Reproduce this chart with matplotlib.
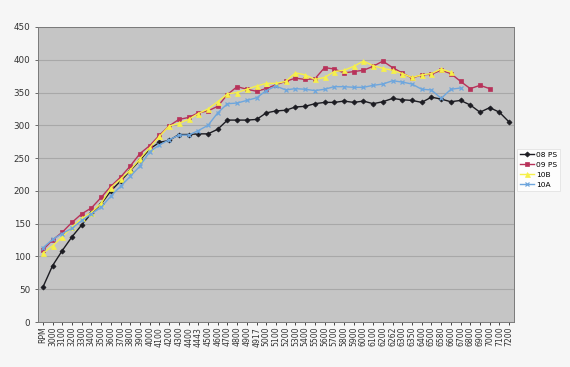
import numpy as np
import matplotlib
matplotlib.use("Agg")
import matplotlib.pyplot as plt

nan = np.nan
categories = ["RPM", "3000", "3100", "3200", "3300", "3400", "3500", "3600", "3700", "3800",
              "3900", "4000", "4100", "4200", "4300", "4400", "4443", "4500", "4600", "4700",
              "4800", "4900", "4917", "5000", "5100", "5200", "5300", "5400", "5500", "5600",
              "5700", "5800", "5900", "6000", "6100", "6200", "6262", "6300", "6350", "6400",
              "6500", "6580", "6600", "6700", "6800", "6900", "7000", "7100", "7200"]

ps08 = [53, 86, 109, 130, 148, 166, 180, 200, 215, 231, 247, 264, 274, 277, 286, 286, 287, 287,
        294, 308, 308, 308, 309, 319, 322, 323, 328, 329, 333, 335, 335, 337, 335, 337, 333, 336,
        341, 339, 338, 335, 343, 340, 336, 338, 331, 320, 327, 320, 305]
ps09 = [110, 125, 137, 152, 165, 174, 190, 207, 221, 238, 257, 269, 285, 299, 309, 312, 319, 322,
        329, 347, 359, 355, 352, 356, 362, 367, 372, 370, 371, 388, 386, 380, 382, 384, 390, 398,
        388, 380, 372, 377, 378, 384, 379, 367, 356, 361, 356, nan, nan]
s10b = [105, 116, 130, 145, 158, 167, 181, 205, 218, 232, 249, 266, 283, 299, 303, 309, 318, 325,
        336, 348, 350, 355, 360, 364, 364, 367, 380, 377, 370, 373, 382, 384, 390, 398, 391, 387,
        384, 379, 373, 377, 379, 386, 381, nan, nan, nan, nan, nan, nan]
s10a = [113, 126, 135, 143, 155, 165, 175, 192, 207, 222, 238, 260, 270, 278, 285, 285, 292, 300,
        319, 333, 334, 338, 342, 353, 360, 354, 356, 355, 353, 355, 359, 359, 358, 358, 361, 363,
        368, 366, 363, 355, 354, 341, 355, 357, nan, nan, nan, nan, nan]

series = [
    ("08 PS", ps08, "#1c1c22", "D", 2.6),
    ("09 PS", ps09, "#b8325a", "s", 3.4),
    ("10B", s10b, "#f6f04a", "^", 3.6),
    ("10A", s10a, "#6ea6dd", "x", 3.2),
]

fig = plt.figure(figsize=(5.7, 3.67), dpi=100)
fig.patch.set_facecolor("#f6f6f6")
ax = fig.add_axes([38 / 570, 45 / 367, 476 / 570, 295 / 367])
ax.set_facecolor("#c5c5c5")

x = np.arange(len(categories))
for name, vals, col, mk, ms in series:
    ax.plot(x, vals, color=col, marker=mk, markersize=ms, linewidth=1.0,
            markeredgewidth=0.9 if mk == "x" else 0.5, markeredgecolor=col, label=name)

ax.set_xlim(-0.5, len(categories) - 0.5)
ax.set_ylim(0, 450)
ax.set_yticks(np.arange(0, 451, 50))
ax.yaxis.grid(True, color="#a8a8a8", linewidth=0.8)
ax.set_axisbelow(True)
ax.set_xticks(x)
ax.set_xticklabels(categories, rotation=90, fontsize=5.6, color="#333333")
ax.tick_params(axis="y", labelsize=6.3, colors="#333333", length=2, width=0.5)
ax.tick_params(axis="x", length=2, width=0.5, pad=1.5)
for sp in ax.spines.values():
    sp.set_color("#7a7a7a")
    sp.set_linewidth(0.7)

leg = fig.legend(loc="upper left", bbox_to_anchor=(517 / 570, 1 - 149 / 367), fontsize=5.4,
                 frameon=True, handlelength=1.9, handletextpad=0.25, borderpad=0.35,
                 labelspacing=0.5, borderaxespad=0.0, fancybox=False)
leg.get_frame().set_edgecolor("#dddddd")
leg.get_frame().set_linewidth(0.6)
leg.get_frame().set_facecolor("white")

fig.savefig("out.png", dpi=100, facecolor=fig.get_facecolor())
